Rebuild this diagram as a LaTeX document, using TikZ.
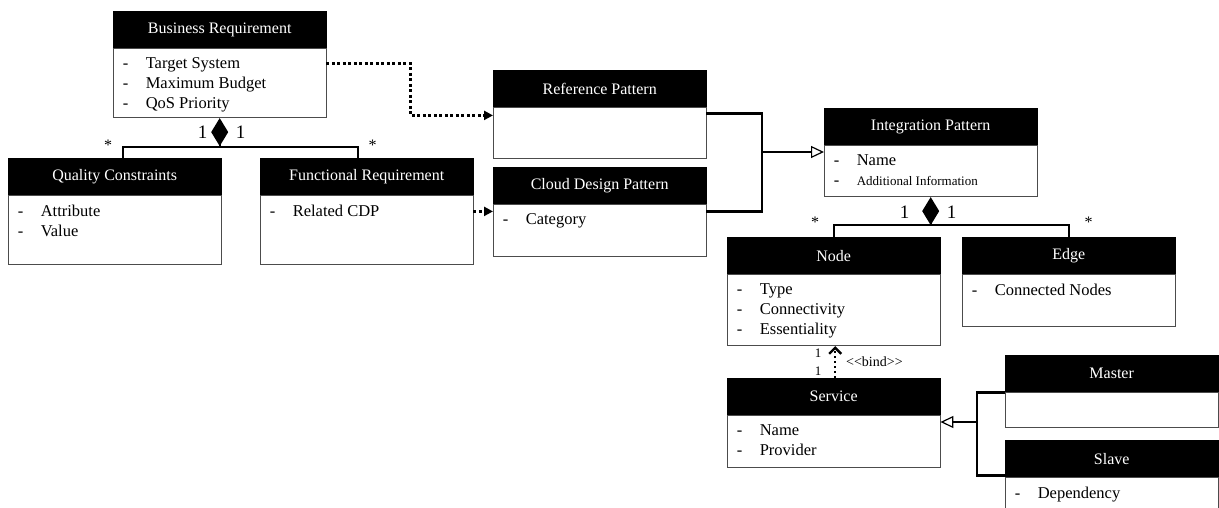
\documentclass[tikz,border=0pt]{standalone}
\usepackage{fontspec}
\setmainfont{Liberation Serif}
\usetikzlibrary{positioning,arrows.meta}
\tikzset{
  class head/.style={
    fill=black,
    draw=black,
    text=white,
    minimum width=213pt,
    minimum height=37pt,
    inner sep=0pt,
    font=\fontsize{16}{19}\selectfont,
  },
  class body/.style={
    draw=gray!60!black,
    line width=1.2pt,
    minimum width=213pt,
    minimum height={#1},
  },
  items/.style={
    anchor=north west,
    align=left,
    inner xsep=10pt,
    inner ysep=9.5pt,
    font=\fontsize{16.5}{20}\selectfont,
  },
  link/.style={line width=2.4pt},
  dep/.style={line width=2.4pt, dash pattern=on 3pt off 2.5pt,
    -{Triangle[length=9pt,width=9pt]}},
  gen/.style={line width=2.4pt,
    -{Triangle[open,length=13pt,width=12pt,line width=1.2pt]}},
  comp/.style={line width=2.4pt, -{Diamond[length=28pt,width=17pt]}},
  bind/.style={line width=2.2pt, dash pattern=on 2.5pt off 2.5pt,
    -{Straight Barb[length=6pt,width=12pt,line width=2.4pt]}},
  mult/.style={font=\fontsize{19}{21}\selectfont, inner sep=1pt},
  star/.style={font=\fontsize{16}{18}\selectfont, inner sep=1pt},
}
\newcommand\classitem[1]{\makebox[23pt][l]{-}#1}

\begin{document}
\begin{tikzpicture}[x=1pt, y=-1pt, node distance=-0.5pt]
        \useasboundingbox (0,0) rectangle (1219,508);

        % requirement side
        \node [class head, anchor=north west] (br) at (113,11) {Business Requirement};
        \node [class body=69pt, below=of br] (brb) {};
        \node [items] (bri) at (brb.north west)
          {\classitem{Target System}\\ \classitem{Maximum Budget}\\ \classitem{QoS Priority}};

        \node [class head, anchor=north west] (qc) at (8,158) {Quality Constraints};
        \node [class body=69pt, below=of qc] (qcb) {};
        \node [items] (qci) at (qcb.north west)
          {\classitem{Attribute}\\ \classitem{Value}};

        \node [class head, anchor=north west] (fr) at (260,158) {Functional Requirement};
        \node [class body=69pt, below=of fr] (frb) {};
        \node [items] (fri) at (frb.north west) {\classitem{Related CDP}};

        % patterns
        \node [class head, anchor=north west] (rp) at (493,70) {Reference Pattern};
        \node [class body=51pt, below=of rp] (rpb) {};

        \node [class head, anchor=north west] (cdp) at (493,167) {Cloud Design Pattern};
        \node [class body=52pt, below=of cdp] (cdpb) {};
        \node [items] (cdpi) at (cdpb.north west) {\classitem{Category}};

        \node [class head, anchor=north west] (ip) at (824,108) {Integration Pattern};
        \node [class body=51pt, below=of ip] (ipb) {};
        \node [items] (ipi) at (ipb.north west)
          {\classitem{Name}\\ \classitem{{\fontsize{13}{16}\selectfont Additional Information}}};

        \node [class head, anchor=north west] (nd) at (727,237) {Node};
        \node [class body=71pt, below=of nd] (ndb) {};
        \node [items] (ndi) at (ndb.north west)
          {\classitem{Type}\\ \classitem{Connectivity}\\ \classitem{Essentiality}};

        \node [class head, anchor=north west] (ed) at (962,237) {Edge};
        \node [class body=52pt, below=of ed] (edb) {};
        \node [items] (edi) at (edb.north west) {\classitem{Connected Nodes}};

        \node [class head, anchor=north west] (sv) at (727,378) {Service};
        \node [class body=52pt, below=of sv] (svb) {};
        \node [items] (svi) at (svb.north west)
          {\classitem{Name}\\ \classitem{Provider}};

        \node [class head, anchor=north west] (ms) at (1005,355) {Master};
        \node [class body=35pt, below=of ms] (msb) {};

        \node [class head, anchor=north west] (sl) at (1005,440) {Slave};
        \node [class body=60pt, below=of sl] (slb) {};
        \node [items] (sli) at (slb.north west) {\classitem{Dependency}};

        % composition of business requirement
        \coordinate (br joint) at ([yshift=-29pt]brb.south);
        \draw [link] ([xshift=8.5pt]qc.north) |- (br joint) -| ([xshift=-9pt]fr.north);
        \draw [comp] (br joint) -- (brb.south);
        \node [mult] at ([xshift=-17pt,yshift=15pt]br joint) {1};
        \node [mult] at ([xshift=21pt,yshift=15pt]br joint) {1};
        \node [star] at ([xshift=-6.5pt,yshift=13pt]qc.north) {*};
        \node [star] at ([xshift=6pt,yshift=13pt]fr.north) {*};

        % dependencies
        \draw [dep] ([yshift=-15pt]br.south east) -- ++(84,0) |- ([yshift=-8pt]rp.south west);
        \draw [dep] ([yshift=-16pt]fr.south east) -- ([yshift=-7pt]cdp.south west);

        % generalization to integration pattern
        \coordinate (rp joint) at (762,152);
        \draw [link] ([yshift=-6pt]rp.south east) -| (rp joint);
        \draw [link] ([yshift=-7pt]cdp.south east) -| (rp joint);
        \draw [gen] (rp joint) -- (rp joint -| ip.west);

        % composition of integration pattern
        \coordinate (ip joint) at ([yshift=-28pt]ipb.south);
        \draw [link] (nd.north) |- (ip joint) -| (ed.north);
        \draw [comp] (ip joint) -- (ipb.south);
        \node [mult] at ([xshift=-26pt,yshift=13pt]ip joint) {1};
        \node [mult] at ([xshift=21pt,yshift=13pt]ip joint) {1};
        \node [star] at ([xshift=-18.5pt,yshift=15pt]nd.north) {*};
        \node [star] at ([xshift=20pt,yshift=15pt]ed.north) {*};

        % binding
        \draw [bind] ([xshift=1.5pt]sv.north) -- ([xshift=1.5pt]ndb.south);
        \node [star, font=\fontsize{13}{15}\selectfont] at (818,353) {1};
        \node [star, font=\fontsize{13}{15}\selectfont] at (818,371) {1};
        \node [star, font=\fontsize{14}{16}\selectfont, anchor=west] at (845,362)
          {<\kern0pt<bind>\kern0pt>};

        % generalization to service
        \coordinate (ms joint) at (977,422);
        \draw [link] (ms.south west) -| (ms joint);
        \draw [link] ([yshift=2pt]sl.south west) -| (ms joint);
        \draw [gen] (ms joint) -- (ms joint -| sv.east);
      \end{tikzpicture}
\end{document}
